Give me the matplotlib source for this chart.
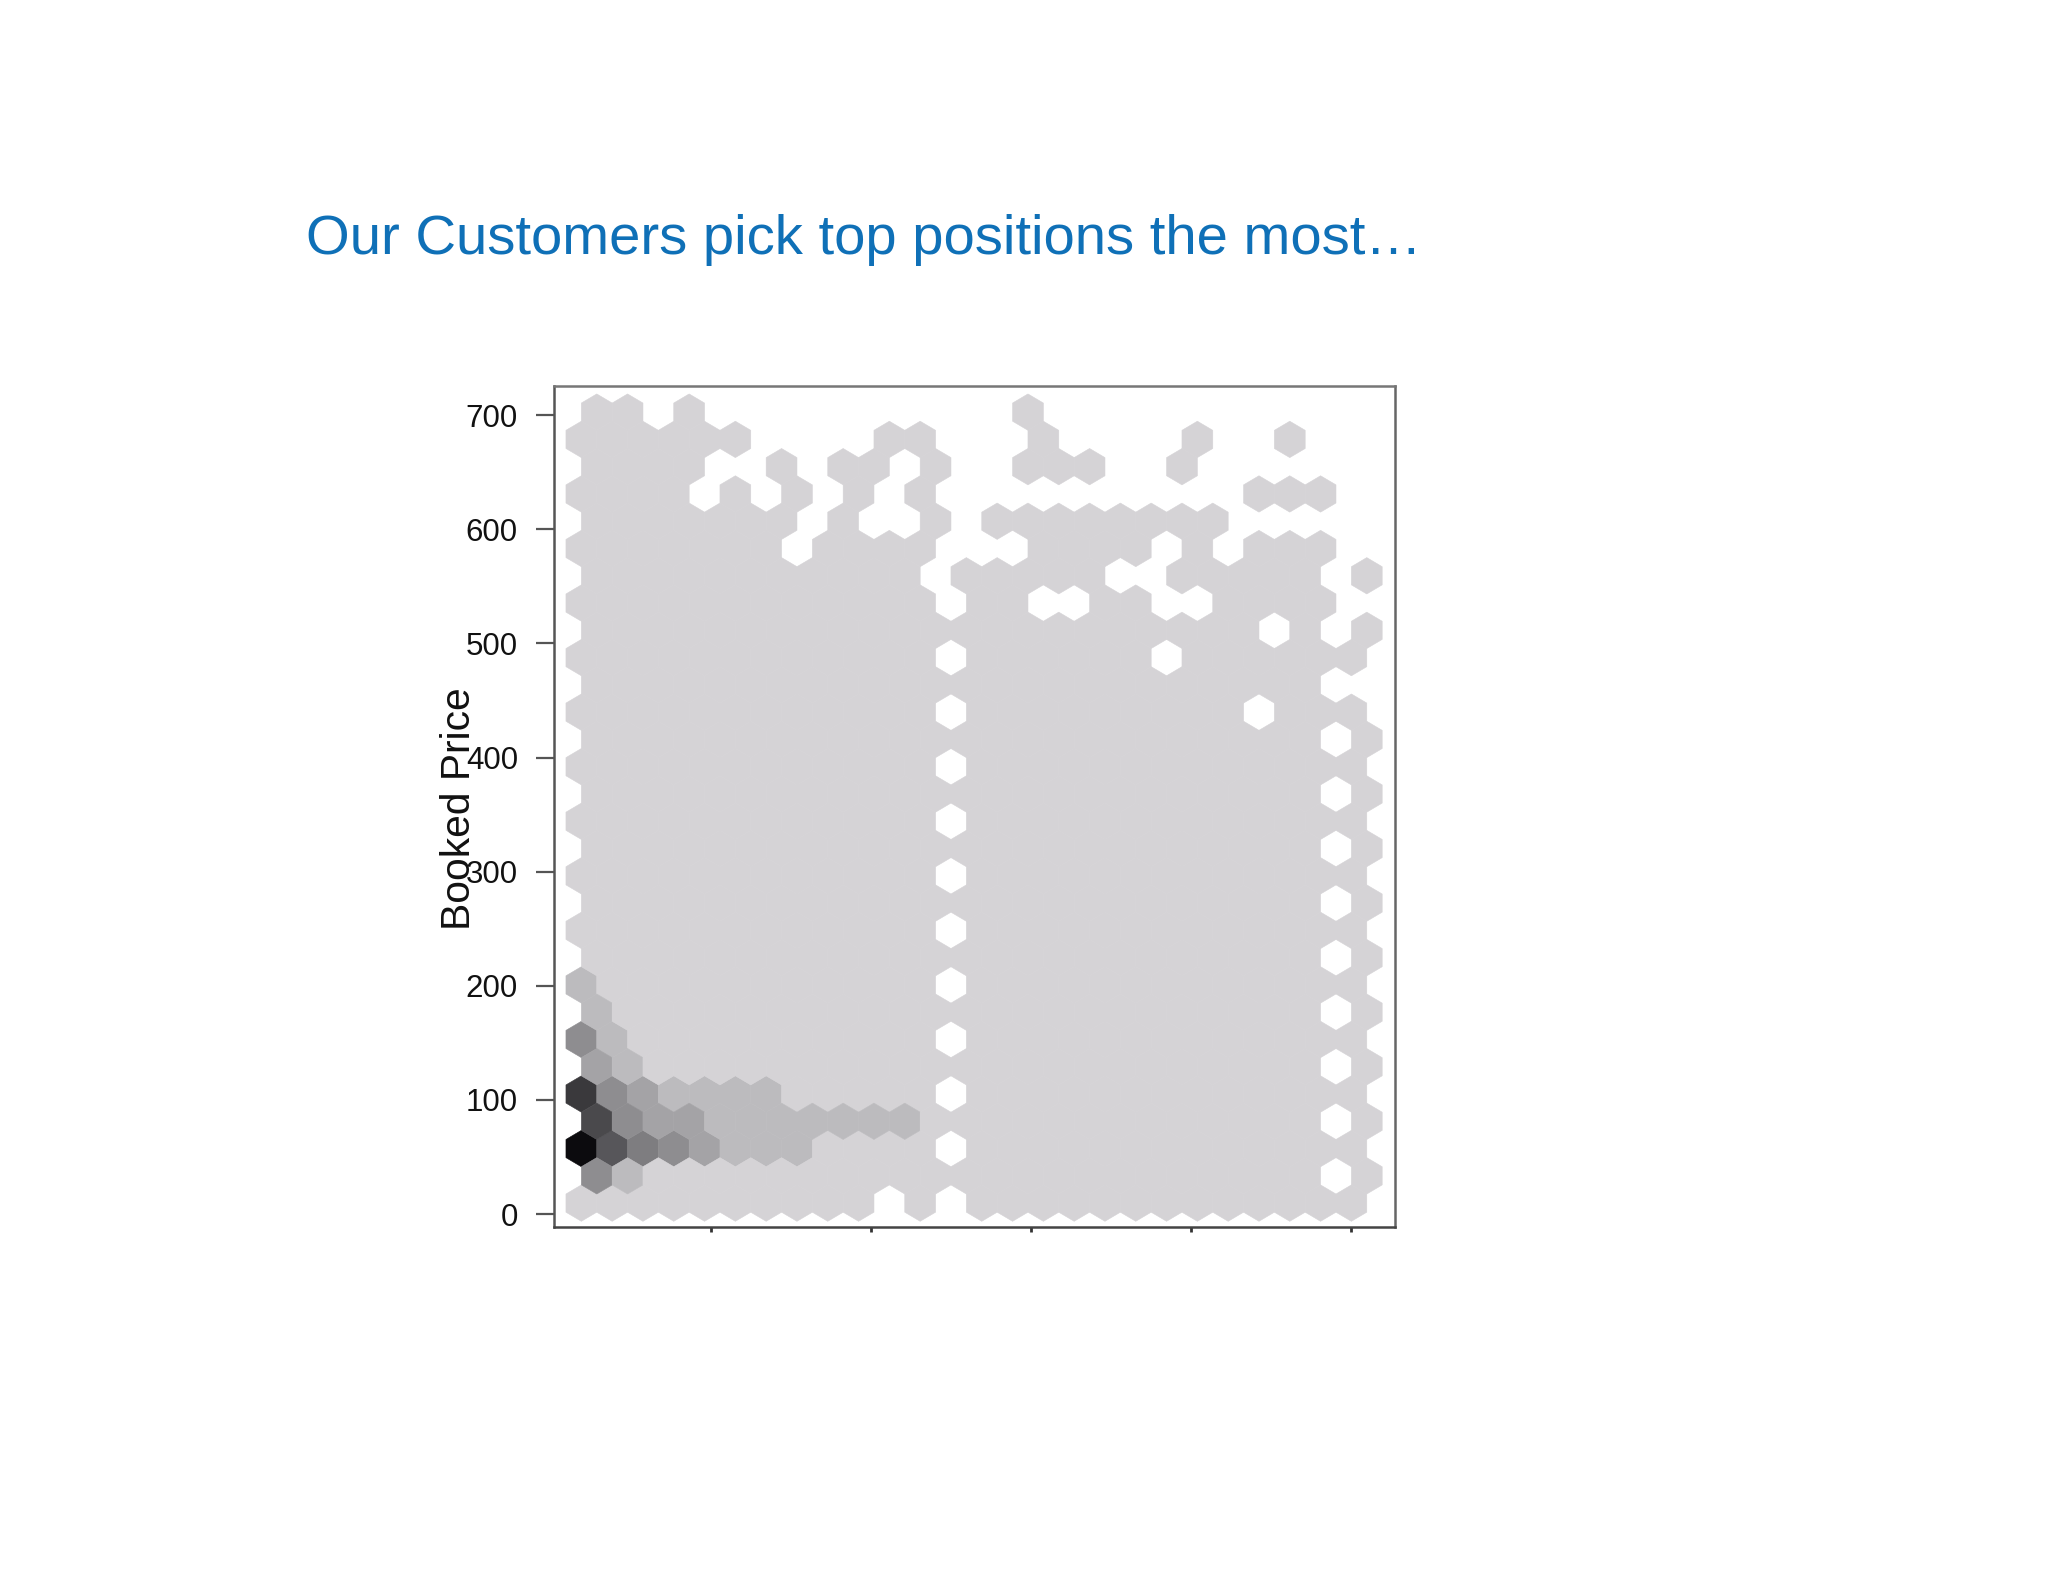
import matplotlib
matplotlib.use("Agg")
import matplotlib.pyplot as plt
from matplotlib.colors import ListedColormap

# hex grid, top row first. '.' = no hex, the letters are count levels
hex_rows = [
    "##.#..........#...........",
    "######....##...#....#..#..",
    "####..#.##.#..###..#......",
    "####.#.#.#.#..........###.",
    "#######.#..#.########.....",
    "#######.####...####.#.###.",
    "###########.#####..#####.#",
    "############.##..##..####.",
    "######################.#.#",
    "############.######.######",
    "########################..",
    "############.#########.###",
    "########################.#",
    "############.#############",
    "########################.#",
    "############.#############",
    "########################.#",
    "############.#############",
    "########################.#",
    "############.#############",
    "########################.#",
    "a###########.#############",
    "a#######################.#",
    "ca##########.#############",
    "ba######################.#",
    "gcbaaaa#####.#############",
    "fcbbaaaaaaa#############.#",
    "hedcbaaa####.#############",
    "ca######################.#",
    "##########.#.#############",
]
levels = "#abcdefgh"
shades = ["#d5d3d6", "#bcbbbe", "#a4a3a6", "#8e8d90", "#7e7d80",
          "#57565a", "#4a494c", "#3a393c", "#0c0b0e"]

y_ticks = [0, 100, 200, 300, 400, 500, 600, 700]
x_ticks = [10, 20, 30, 40, 50]

title = "Our Customers pick top positions the most\u2026"
y_label = "Booked Price"

# grid spacing in data units
x_start, x_step = 1.9, 1.925
y_start, y_step = 9.6, 23.9

xs = []
ys = []
vals = []
n_rows = len(hex_rows)
for r, row in enumerate(hex_rows):
    k = n_rows - 1 - r
    for i, ch in enumerate(row):
        if ch == ".":
            continue
        xs.append(x_start + (i + 0.5 * (k % 2)) * x_step)
        ys.append(y_start + k * y_step)
        vals.append(levels.index(ch))

W, H = 2048, 1582
fig = plt.figure(figsize=(W / 100, H / 100), dpi=100, facecolor="white")
plt.rcParams["font.family"] = ["Liberation Sans", "DejaVu Sans"]

left, right, top, bottom = 554, 1394.5, 386, 1226.5
ax = fig.add_axes([left / W, 1 - bottom / H, (right - left) / W, (bottom - top) / H])

ax.hexbin(xs, ys, C=vals, reduce_C_function=max, gridsize=(26, 15),
          extent=(x_start, x_start + 26 * x_step, y_start, y_start + 30 * y_step),
          cmap=ListedColormap(shades), vmin=-0.5, vmax=len(shades) - 0.5,
          edgecolors="face", linewidths=0.4)

ax.set_xlim(0.19, 52.72)
ax.set_ylim(-10.9, 725.6)

ax.set_yticks(y_ticks)
ax.set_xticks(x_ticks)
ax.set_xticklabels([])
ax.tick_params(axis="y", length=13, width=1.6, color="#555555", pad=13,
               labelsize=22.5, labelcolor="#111111")
ax.tick_params(axis="x", length=3.5, width=2, color="#333333")

ax.spines["top"].set_color("#777777")
ax.spines["right"].set_color("#666666")
ax.spines["left"].set_color("#555555")
ax.spines["bottom"].set_color("#444444")
for s in ax.spines.values():
    s.set_linewidth(1.8)

fig.text(458.5 / W, 1 - 809 / H, y_label, rotation=90, ha="center", va="center",
         fontsize=29.3, color="#111111")
fig.text(306 / W, 1 - 253.5 / H, title, ha="left", va="baseline",
         fontsize=40.5, color="#0f70b7")

fig.savefig("out.png", dpi=100)
